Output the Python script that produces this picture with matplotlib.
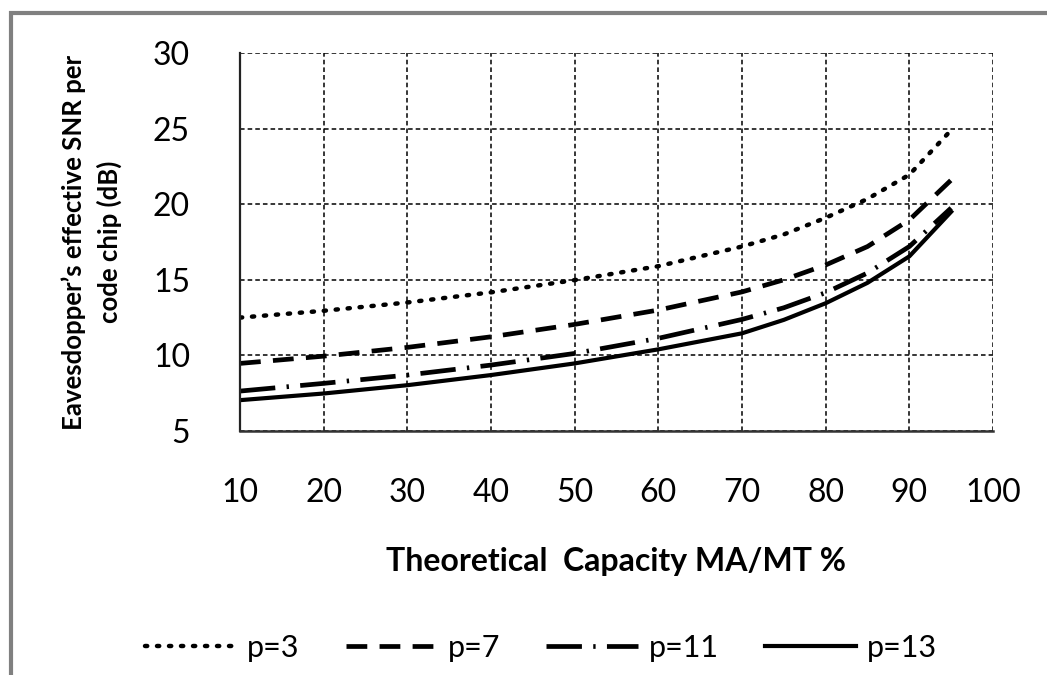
import matplotlib
matplotlib.use("Agg")
import matplotlib.pyplot as plt
from matplotlib.patches import Rectangle

capacity = [10, 20, 30, 40, 50, 60, 70, 75, 80, 85, 90, 95]
snr_p3 = [12.5, 12.95, 13.5, 14.17, 14.98, 15.9, 17.2, 18.0, 19.1, 20.35, 21.95, 24.9]
snr_p7 = [9.47, 9.95, 10.53, 11.23, 12.05, 13.0, 14.2, 15.0, 15.98, 17.2, 18.96, 21.6]
snr_p11 = [7.64, 8.15, 8.7, 9.36, 10.13, 11.13, 12.38, 13.15, 14.15, 15.45, 17.2, 19.75]
snr_p13 = [7.04, 7.48, 8.03, 8.7, 9.47, 10.4, 11.46, 12.35, 13.45, 14.8, 16.55, 19.5]
labels = ["p=3", "p=7", "p=11", "p=13"]
x_ticks = [10, 20, 30, 40, 50, 60, 70, 80, 90, 100]
y_ticks = [5, 10, 15, 20, 25, 30]

plt.rcParams['font.family'] = ['Lato', 'DejaVu Sans']

fig = plt.figure(figsize=(10.47, 6.75), dpi=100)
ax = fig.add_axes([240/1047, 1-431/675, (993-240)/1047, (431-53)/675])

styles = [
    dict(linestyle=(0, (0.5, 2.2)), dash_capstyle='round', linewidth=3.2),
    dict(linestyle=(0, (4.4, 2.6)), linewidth=3.4),
    dict(linestyle=(0, (7.5, 2.4, 0.5, 2.4)), linewidth=3.4),
    dict(linestyle='-', linewidth=3.0),
]
series = [snr_p3, snr_p7, snr_p11, snr_p13]
handles = []
for s, st, lab in zip(series, styles, labels):
    ln, = ax.plot(capacity, s, color='black', label=lab, **st)
    handles.append(ln)

ax.set_xlim(10, 100)
ax.set_ylim(5, 30)
ax.set_xticks(x_ticks)
ax.set_yticks(y_ticks)
ax.grid(True, color='black', linestyle=(0, (3, 2)), linewidth=1.1)
ax.tick_params(length=0, labelsize=23)
ax.tick_params(axis='y', pad=36)
ax.tick_params(axis='x', pad=34)
for side in ['top', 'right']:
    ax.spines[side].set_visible(False)
ax.spines['left'].set_linewidth(1.6)
ax.spines['bottom'].set_linewidth(1.8)
ax.spines['bottom'].set_color('#333333')
ax.spines['left'].set_color('#222222')

ax.set_xlabel("Theoretical  Capacity MA/MT %", fontsize=23, fontweight='bold', labelpad=28)
ax.set_ylabel("Eavesdopper\u2019s effective SNR per\ncode chip (dB)", fontsize=18.5,
              fontweight='bold', labelpad=22, linespacing=1.5)

leg = fig.legend(handles=handles, labels=labels, loc='center', bbox_to_anchor=(541/1047, 1-648/675),
                 ncol=4, frameon=False, fontsize=22, handlelength=3.0, handletextpad=0.35,
                 columnspacing=1.5)

# outer frame
fig.patches.append(Rectangle((11/1047, -0.1), 1.2, 1 - 13/675 + 0.1, transform=fig.transFigure,
                             fill=False, edgecolor='#808080', linewidth=3, zorder=0))

fig.savefig("out.png", dpi=100)
